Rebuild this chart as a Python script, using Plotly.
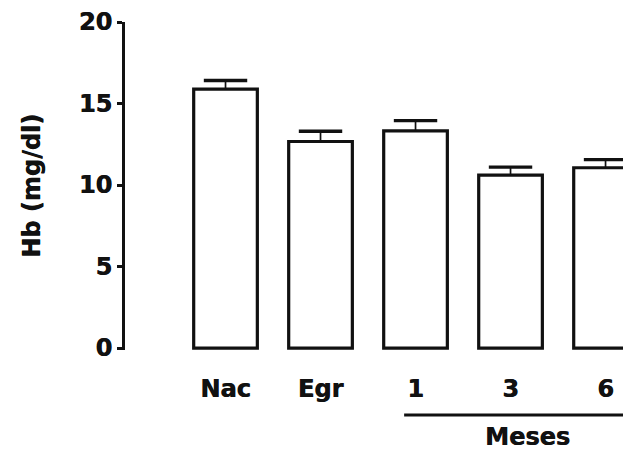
import plotly.graph_objects as go

categories = ["Nac", "Egr", "1", "3", "6"]
hb_means = [15.88, 12.67, 13.32, 10.61, 11.06]
hb_errors = [0.53, 0.63, 0.63, 0.49, 0.50]
y_ticks = [0, 5, 10, 15, 20]
group_label = "Meses"
y_title = "Hb (mg/dl)"

FONT = "DejaVu Sans"
INK = "#111111"
SHADOW = "0.6px 0px 0px #111111"


def bold_font():
    return dict(family=FONT, size=24, color=INK, weight="bold", shadow=SHADOW)


fig = go.Figure()

fig.add_trace(go.Bar(
    x=categories,
    y=hb_means,
    width=0.67,
    marker=dict(color="white", line=dict(color=INK, width=3.2)),
    error_y=dict(type="data", array=hb_errors, arrayminus=[0] * len(hb_errors),
                 symmetric=False, width=0, thickness=1.7, color=INK),
    showlegend=False,
    hoverinfo="skip",
))

fig.add_trace(go.Scatter(
    x=categories,
    y=[m + e for m, e in zip(hb_means, hb_errors)],
    mode="markers",
    marker=dict(symbol="line-ew", size=31, line=dict(color=INK, width=3.4)),
    showlegend=False,
    hoverinfo="skip",
    cliponaxis=False,
))

# page body adds an 8px offset, so the figure is sized to fit the visible window
fig.update_layout(
    width=623, height=442,
    margin=dict(l=117, r=0, t=14, b=100, autoexpand=False),
    paper_bgcolor="white", plot_bgcolor="white",
    font=bold_font(),
    xaxis=dict(
        type="category",
        range=[-1.058, 4.268],
        automargin=False,
        showline=False, showgrid=False, zeroline=False,
        ticks="",
        ticklabelstandoff=22,
        tickfont=bold_font(),
    ),
    yaxis=dict(
        range=[-0.12, 20],
        tickvals=y_ticks,
        automargin=False,
        showline=True, linecolor=INK, linewidth=3,
        ticks="outside", ticklen=5, tickwidth=3, tickcolor=INK,
        showgrid=False, zeroline=False,
        tickfont=bold_font(),
    ),
    annotations=[
        dict(text=y_title, textangle=-90, xref="paper", yref="paper",
             x=-0.184, y=0.5, xanchor="center", yanchor="middle",
             showarrow=False, font=bold_font()),
        dict(text=group_label, xref="x", yref="paper",
             x=3.18, y=-0.265, xanchor="center", yanchor="middle",
             showarrow=False, font=bold_font()),
    ],
    shapes=[
        dict(type="line", xref="x", yref="paper", x0=1.88, x1=4.4,
             y0=-0.198, y1=-0.198, line=dict(color=INK, width=3)),
    ],
)

fig.write_html("out.html")
